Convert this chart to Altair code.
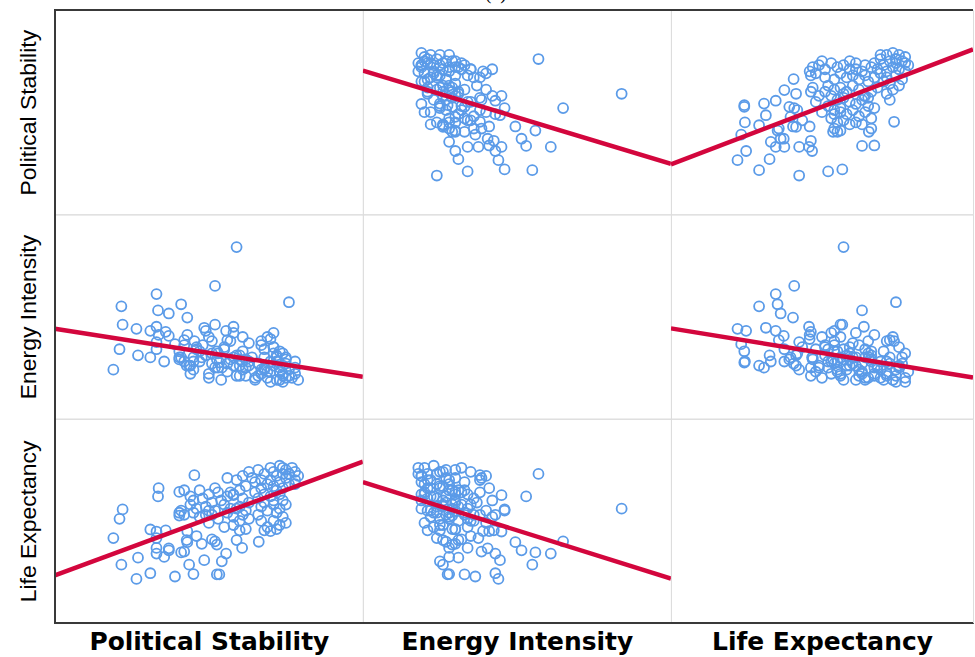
import altair as alt
import pandas as pd

# ---------------- data ----------------
# Political Stability (percentile rank), Energy Intensity (MJ/$), Life Expectancy (years)
# sparse / outlying countries
ps_a = [59, 76, 52, 33, 21.6, 41, 33.5, 37, 43, 19, 21, 22, 26.5, 31, 27, 39, 52.6, 53.4, 43.6, 54.2,
        55.6, 48.5, 31, 33, 33.7, 33, 33, 35.5, 36, 37, 40.4, 45.3, 40.4, 40.4, 43, 42.8, 42, 47.7, 46, 51,
        52.6, 60.8, 66.2, 59, 68, 58, 52, 49, 71, 45]
ei_a = [16.8, 11.4, 13, 12.2, 11, 11.2, 10.6, 10.3, 9.9, 4.8, 6.8, 9.2, 8.8, 8.6, 6.2, 7.3, 6.6, 5.5, 5.2, 5.0,
        8.6, 8.9, 6.0, 9.0, 8.2, 6.8, 7.5, 5.6, 8.5, 8.1, 6.0, 7.6, 5.8, 6.6, 8.2, 5.2, 7.7, 6.0, 7.0, 6.4,
        5.8, 5.6, 5.4, 6.2, 5.0, 9.0, 9.2, 8.6, 8.4, 5.6]
le_a = [68, 76.5, 60, 57, 54.3, 57.3, 71, 57.8, 59.8, 60.8, 65.5, 67.8, 50.8, 52.2, 56, 51.4, 51.9, 51.9, 54.3, 55.1,
        57, 55.4, 62.9, 62.4, 73, 58.4, 60.8, 56.2, 62.7, 58.3, 72.1, 76.2, 66.3, 67, 62.5, 60.3, 57.5, 59.4, 61.3, 60.5,
        59.2, 58.4, 59.9, 60.3, 62.7, 71.3, 67.5, 66.5, 70, 52]
# dense cluster, high stability / high life expectancy
ps_b = [78, 79, 78, 77, 75, 74, 75, 76, 73, 74, 73, 71, 72, 70, 71, 72, 70, 68, 67, 69,
        66, 67, 64, 65, 63, 61, 62, 59, 60, 74, 76, 78, 73, 70]
ei_b = [4.4, 3.8, 5.0, 4.0, 6.0, 3.6, 5.4, 4.8, 6.6, 4.2, 4.6, 7.0, 3.8, 5.6, 5.2, 6.2, 3.6, 4.8, 7.6, 4.0,
        5.4, 4.4, 6.0, 3.8, 5.2, 8.0, 5.0, 4.2, 5.8, 6.4, 4.2, 5.6, 3.8, 4.6]
le_b = [75, 76, 77, 78, 77.5, 76.5, 75.5, 74, 74.5, 73, 78.5, 77, 76, 75, 73.5, 72.5, 78, 76.5, 75, 74,
        77.5, 73, 75.5, 74.5, 77, 76, 73.5, 75, 72.5, 78, 76.5, 74, 71.5, 71]
# upper band
ps_c = [72, 73, 71, 74, 72, 73, 71, 74, 69, 67, 68, 66, 66, 67, 69, 68, 65, 70, 75, 75]
ei_c = [6.0, 5.0, 7.0, 4.4, 5.6, 3.8, 6.4, 5.2, 8.0, 4.8, 6.0, 4.2, 5.4, 7.2, 4.6, 6.8, 4.0, 7.8, 4.0, 5.8]
le_c = [63, 64, 65, 66, 67, 68, 69, 70, 67.5, 68.5, 69.5, 70.5, 66.5, 65, 63.5, 71.5, 72, 62.5, 64.5, 69]
# middle block
ps_d = [63, 61, 62, 60, 63, 61, 58, 58, 56, 57, 55, 54, 56, 53, 53, 51, 50, 49, 51, 48,
        50, 47, 47, 45, 46, 44, 45, 44, 57, 60, 58, 55, 62, 50, 52, 42, 42, 41, 56, 60]
ei_d = [5.6, 6.6, 4.2, 5.2, 7.4, 4.8, 6.0, 8.4, 4.6, 5.8, 7.0, 3.8, 5.4, 6.4, 5.0, 7.6, 4.4, 6.2, 5.4, 7.2,
        4.0, 6.6, 5.6, 4.8, 6.8, 5.2, 6.0, 4.4, 7.6, 6.2, 5.2, 6.8, 5.8, 8.0, 5.0, 5.6, 7.2, 6.0, 7.7, 4.2]
le_d = [65.5, 66.5, 67.5, 68.5, 69.5, 70.5, 71.5, 66, 67, 68, 69, 70, 71, 72, 65.5, 66.5, 67.5, 68.5, 69.5, 70.5,
        71.5, 72.5, 66, 67, 68, 69, 70, 71, 72, 65, 64, 63.5, 63, 64.5, 73, 72.5, 66.5, 67.5, 75.5, 62.7]

ps = ps_a + ps_b + ps_c + ps_d
ei = ei_a + ei_b + ei_c + ei_d
le = le_a + le_b + le_c + le_d

# fitted lines: predicted row variable at the two ends of the column variable's range
fit_yvar = ["PS", "PS", "EI", "EI", "LE", "LE"]
fit_xvar = ["EI", "LE", "PS", "LE", "PS", "EI"]
fit_start = [70.3, 24.5, 8.8, 8.84, 51.65, 74.5]
fit_end = [24.7, 80.7, 4.1, 4.03, 79.5, 50.9]

# ---------------- chart ----------------
VARS = ["PS", "EI", "LE"]
LABELS = {"PS": "Political Stability", "EI": "Energy Intensity", "LE": "Life Expectancy"}
X_DOMAIN = {"PS": [0, 100], "EI": [0, 20], "LE": [40, 89]}
Y_DOMAIN = {"PS": [0, 100], "EI": [0, 20], "LE": [40, 90]}
WIDTHS = [309, 309, 303]
HEIGHT = 205
BLUE = "#5b9be8"
RED = "#d3063d"
FRAME = "#3a3a3a"

df = pd.DataFrame({"PS": ps, "EI": ei, "LE": le})

fit_rows = []
for yv, xv, s, e in zip(fit_yvar, fit_xvar, fit_start, fit_end):
    fit_rows.append({"yvar": yv, "xvar": xv, "x": X_DOMAIN[xv][0], "y": s})
    fit_rows.append({"yvar": yv, "xvar": xv, "x": X_DOMAIN[xv][1], "y": e})
fits = pd.DataFrame(fit_rows)


def x_axis(r, xv):
    if r == 2:
        return alt.Axis(title=LABELS[xv], labels=False, ticks=False, domain=False, grid=False,
                        titleFont="DejaVu Sans", titleFontSize=25, titleFontWeight="bold",
                        titleColor="#000000", titlePadding=6)
    return None


def y_axis(c, yv):
    if c == 0:
        return alt.Axis(title=LABELS[yv], labels=False, ticks=False, domain=False, grid=False,
                        titleFont="Liberation Sans", titleFontSize=23, titleFontWeight="normal",
                        titleColor="#000000", titlePadding=14)
    return None


def panel(r, c):
    yv, xv = VARS[r], VARS[c]
    w = WIDTHS[c]
    xs = alt.Scale(domain=X_DOMAIN[xv], nice=False, zero=False)
    ys = alt.Scale(domain=Y_DOMAIN[yv], nice=False, zero=False)
    pts = alt.Chart(df).mark_point(
        shape="circle", filled=False, size=100, strokeWidth=1.8, color=BLUE,
        opacity=0 if r == c else 1,
    ).encode(
        x=alt.X(xv, type="quantitative", scale=xs, axis=x_axis(r, xv)),
        y=alt.Y(yv, type="quantitative", scale=ys, axis=y_axis(c, yv)),
    )
    layers = [pts]
    if r != c:
        sub = fits[(fits.yvar == yv) & (fits.xvar == xv)]
        line = alt.Chart(sub).mark_line(color=RED, strokeWidth=4.5, clip=True).encode(
            x=alt.X("x", type="quantitative", scale=xs, axis=x_axis(r, xv)),
            y=alt.Y("y", type="quantitative", scale=ys, axis=y_axis(c, yv)),
        )
        layers.append(line)
    # darker outer frame of the matrix
    if c == 0:
        layers.append(alt.Chart(df).mark_rule(color=FRAME, strokeWidth=1.6).encode(
            x=alt.value(0), y=alt.value(0), y2=alt.value(HEIGHT)))
    if r == 0:
        layers.append(alt.Chart(df).mark_rule(color=FRAME, strokeWidth=1.6).encode(
            y=alt.value(0), x=alt.value(0), x2=alt.value(w)))
    if r == 2:
        layers.append(alt.Chart(df).mark_rule(color=FRAME, strokeWidth=1.6).encode(
            y=alt.value(HEIGHT), x=alt.value(0), x2=alt.value(w)))
    return alt.layer(*layers).properties(width=w, height=HEIGHT)


panels = [panel(r, c) for r in range(3) for c in range(3)]
chart = alt.concat(*panels, columns=3, spacing=0, bounds="flush").properties(
    title=alt.TitleParams("(a)", fontSize=20, font="Liberation Serif", fontWeight="normal",
                          anchor="middle", offset=6, color="#000000"),
    padding={"left": 17, "top": -19, "right": 0, "bottom": 0},
).configure_view(stroke="#858585", strokeWidth=1.5).configure(background="white")

chart.save("out.html", embed_options={"renderer": "svg", "actions": False})
